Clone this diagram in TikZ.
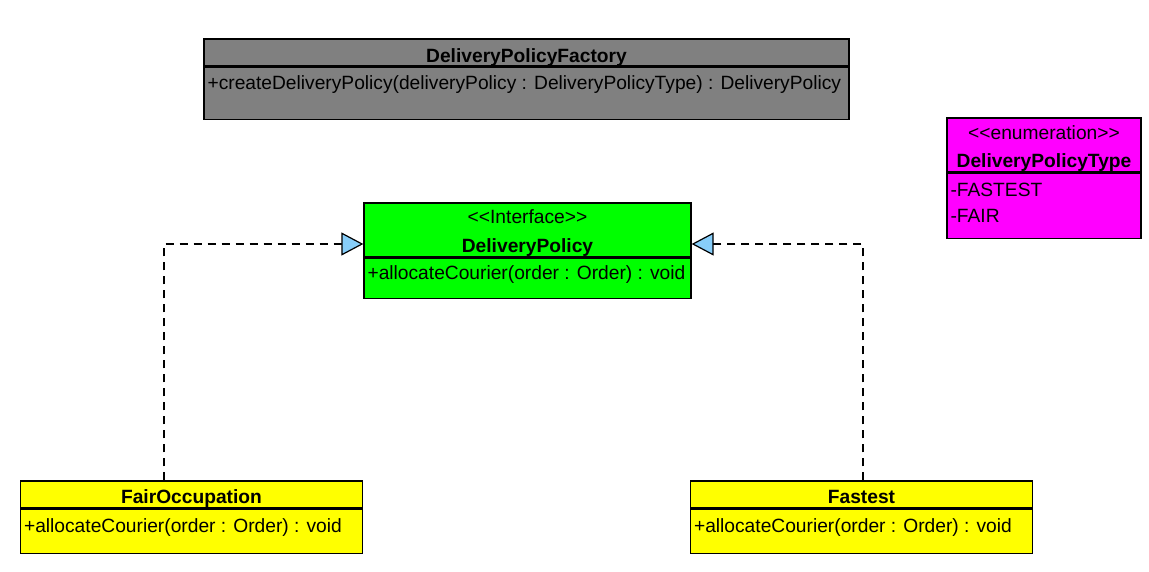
\documentclass[tikz,border=0pt]{standalone}
\usepackage{fontspec}
\setmainfont{Liberation Sans}[Ligatures=TeXOff]
\usepackage{tikz}
\usetikzlibrary{arrows.meta}
\definecolor{factorygray}{RGB}{128,128,128}
\definecolor{ifacegreen}{RGB}{0,255,0}
\definecolor{enummagenta}{RGB}{255,0,255}
\definecolor{implyellow}{RGB}{255,255,0}
\definecolor{tipblue}{RGB}{135,206,250}
\tikzstyle{classbox}=[rectangle,draw=black,line width=1.3pt,inner sep=0pt]
\tikzstyle{title}=[anchor=base,inner sep=0pt,font=\fontsize{19.2}{26}\selectfont\bfseries]
\tikzstyle{stereotype}=[anchor=base,inner sep=0pt]
\tikzstyle{member}=[anchor=base west,inner xsep=4pt,inner ysep=0pt]
\tikzstyle{realization}=[draw=black,line width=1.2pt,dash pattern=on 8pt off 6pt,-{Triangle[length=22pt,width=23pt,fill=tipblue]}]

\begin{document}
\begin{tikzpicture}[x=1pt,y=-1pt,font=\fontsize{19.2}{26}\selectfont]
    \useasboundingbox (0,0) rectangle (1149,571);
    % factory
    \node[classbox,fill=factorygray,minimum width=645pt,minimum height=27pt] (factory) at (526.5,52.5) {};
    \node[classbox,fill=factorygray,minimum width=645pt,minimum height=52pt,anchor=north] (factory body) at (factory.south) {};
    \node[title] (factory name) at ([yshift=4.5pt]factory.south) {DeliveryPolicyFactory};
    \node[member] (factory create) at ([yshift=-23pt]factory body.north west) {+createDeliveryPolicy(deliveryPolicy : DeliveryPolicyType) : DeliveryPolicy};
    % interface
    \node[classbox,fill=ifacegreen,minimum width=327pt,minimum height=54pt] (iface) at (527.5,230) {};
    \node[classbox,fill=ifacegreen,minimum width=327pt,minimum height=40pt,anchor=north] (iface body) at (iface.south) {};
    \node[stereotype] (iface kind) at ([yshift=34pt]iface.south) {<<Interface>>};
    \node[title] (iface name) at ([yshift=5.3pt]iface.south) {DeliveryPolicy};
    \node[member] (iface allocate) at ([yshift=-22pt]iface body.north west) {+allocateCourier(order : Order) : void};
    % enumeration
    \node[classbox,fill=enummagenta,minimum width=194pt,minimum height=54pt] (policytype) at (1044,145) {};
    \node[classbox,fill=enummagenta,minimum width=194pt,minimum height=65pt,anchor=north] (policytype body) at (policytype.south) {};
    \node[stereotype] (policytype kind) at ([yshift=33pt]policytype.south) {<<enumeration>>};
    \node[title] (policytype name) at ([yshift=5.3pt]policytype.south) {DeliveryPolicyType};
    \node[member] (fastest value) at ([yshift=-24pt]policytype body.north west) {-FASTEST};
    \node[member] (fair value) at ([yshift=-49.5pt]policytype body.north west) {-FAIR};
    % implementations
    \foreach \cls/\title/\x in {fair/FairOccupation/191.5, fastest/Fastest/861.5} {
        \node[classbox,fill=implyellow,minimum width=342pt,minimum height=27pt] (\cls) at (\x,494.5) {};
        \node[classbox,fill=implyellow,minimum width=342pt,minimum height=44pt,anchor=north] (\cls body) at (\cls.south) {};
        \node[title] (\cls name) at ([yshift=5.3pt]\cls.south) {\title};
        \node[member] (\cls allocate) at ([yshift=-24pt]\cls body.north west) {+allocateCourier(order : Order) : void};
    }
    \draw[realization] ([xshift=-27.5pt]fair.north) |- ([yshift=-14pt]iface.west);
    \draw[realization] ([xshift=1.5pt]fastest.north) |- ([yshift=-14pt]iface.east);
\end{tikzpicture}
\end{document}
